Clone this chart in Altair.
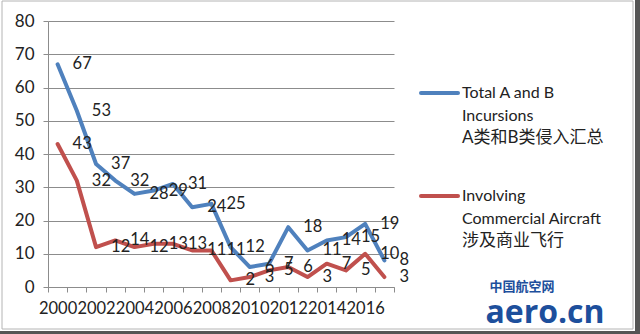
import altair as alt
import pandas as pd

years = list(range(2000, 2018))
total_ab = [67, 53, 37, 32, 28, 29, 31, 24, 25, 12, 6, 7, 18, 11, 14, 15, 19, 8]
commercial = [43, 32, 12, 14, 12, 13, 13, 11, 11, 2, 3, 5, 6, 3, 7, 5, 10, 3]
series_names = ["Total A and B Incursions", "Involving Commercial Aircraft"]
series_colors = ["#4F81BD", "#C0504D"]
legend_lines = [
    ["Total A and B", "Incursions", "A类和B类侵入汇总"],
    ["Involving", "Commercial Aircraft", "涉及商业飞行"],
]
y_ticks = list(range(0, 90, 10))
x_tick_positions = [y - 0.5 for y in range(2000, 2019)]

rows = []
for i, yr in enumerate(years):
    rows.append({"year": yr, "value": total_ab[i], "series": series_names[0]})
    rows.append({"year": yr, "value": commercial[i], "series": series_names[1]})
df = pd.DataFrame(rows)

FONT = "Lato, Noto Sans CJK SC, sans-serif"
W, H = 346, 266
PL, PT = 48, 21

x_enc = alt.X(
    "year:Q",
    scale=alt.Scale(domain=[1999.5, 2017.5], nice=False, zero=False),
    axis=alt.Axis(
        title=None,
        values=x_tick_positions,
        labelExpr="(datum.value < 2017 && (datum.value + 0.5) % 2 == 0) ? '' + (datum.value + 0.5) : ''",
        labelOffset=9.6,
        labelOverlap=False,
        labelFlush=False,
        labelBound=False,
        grid=False,
        tickSize=5,
        tickColor="#8c8c8c",
        domainColor="#8c8c8c",
        labelPadding=8,
        labelFontSize=16.5,
        labelFont=FONT,
        labelColor="#222222",
    ),
)
y_enc = alt.Y(
    "value:Q",
    scale=alt.Scale(domain=[0, 80], nice=False),
    axis=alt.Axis(
        title=None,
        values=y_ticks,
        labelOverlap=False,
        grid=True,
        gridColor="#8c8c8c",
        gridWidth=1,
        tickSize=5,
        tickColor="#8c8c8c",
        domainColor="#8c8c8c",
        labelPadding=9,
        labelFontSize=17,
        labelFont=FONT,
        labelColor="#222222",
    ),
)
color_enc = alt.Color(
    "series:N",
    scale=alt.Scale(domain=series_names, range=series_colors),
    legend=None,
)

base = alt.Chart(df).encode(x=x_enc, y=y_enc)
lines = base.mark_line(strokeWidth=4, strokeCap="round", strokeJoin="round").encode(color=color_enc)
labels = base.mark_text(
    align="left", baseline="middle", dx=15, fontSize=16.5, font=FONT, color="#222222"
).encode(text="value:Q")
data_layer = alt.layer(lines, labels)

one = pd.DataFrame({"k": [0]})
layers = [data_layer]

# legend (manual)
legend_y0 = [72, 175]
for s in range(2):
    layers.append(
        alt.Chart(one).mark_rule(strokeWidth=4, strokeCap="round", color=series_colors[s]).encode(
            x=alt.value(373), x2=alt.value(410), y=alt.value(legend_y0[s])
        )
    )
    for j, txt in enumerate(legend_lines[s]):
        layers.append(
            alt.Chart(one).mark_text(
                text=txt, align="left", baseline="middle", fontSize=16 if j < 2 else 17,
                font=FONT, color="#222222"
            ).encode(x=alt.value(414), y=alt.value(legend_y0[s] + 22.5 * j))
        )

# watermark
layers.append(
    alt.Chart(one).mark_text(
        text="中国航空网", align="center", baseline="middle", fontSize=13, fontWeight="bold",
        font="Noto Sans CJK SC", color="#1d4f9c"
    ).encode(x=alt.value(474), y=alt.value(266))
)
layers.append(
    alt.Chart(one).mark_text(
        text="aero.cn", align="center", baseline="middle", fontSize=32, fontWeight="bold",
        font="Open Sans", color="#1d4f9c"
    ).encode(x=alt.value(497), y=alt.value(292))
)

# frame
layers.append(
    alt.Chart(one).mark_rect(fill="transparent", stroke="#b4b4b4", strokeWidth=1).encode(
        x=alt.value(2 - PL), x2=alt.value(633 - PL), y=alt.value(1 - PT), y2=alt.value(329 - PT)
    )
)
layers.append(
    alt.Chart(one).mark_rect(fill="#555555").encode(
        x=alt.value(635 - PL), x2=alt.value(640 - PL), y=alt.value(0 - PT), y2=alt.value(334 - PT)
    )
)
layers.append(
    alt.Chart(one).mark_rect(fill="#555555").encode(
        x=alt.value(0 - PL), x2=alt.value(640 - PL), y=alt.value(331 - PT), y2=alt.value(334 - PT)
    )
)

chart = alt.layer(*layers).properties(
    width=W,
    height=H,
    autosize=alt.AutoSizeParams(type="none"),
    padding={"left": PL, "top": PT, "right": 640 - PL - W, "bottom": 334 - PT - H},
    background="white",
).configure_view(stroke=None)

chart.save("out.html", embed_options={"renderer": "svg", "actions": False})
